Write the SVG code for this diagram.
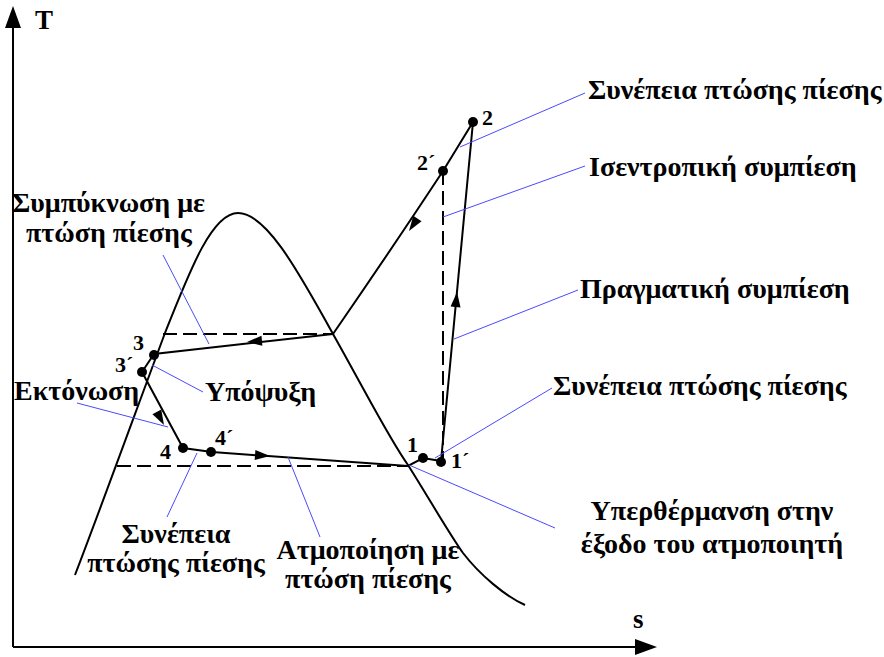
<svg xmlns="http://www.w3.org/2000/svg" xmlns:xlink="http://www.w3.org/1999/xlink" width="884" height="657" viewBox="0 0 884 657">
<style>
.ax{stroke:#000;stroke-width:2;fill:none}
.ln{stroke:#000;stroke-width:2;fill:none}
.ds{stroke:#000;stroke-width:2;fill:none;stroke-dasharray:14,6}
.ld{stroke:#4a4aff;stroke-width:1;fill:none}
.dot{fill:#000}
.mid{text-anchor:middle}
</style>
<defs>
<path id="ah" d="M0,0 L-15,-5 L-15,5 Z" fill="#000"/>
</defs>
<rect width="884" height="657" fill="#fff"/>
<g id="axes">
<line class="ax" x1="13" y1="26" x2="13" y2="647"/>
<polygon points="13,6 5,28 21,28" fill="#000"/>
<line class="ax" x1="13" y1="647" x2="638" y2="647"/>
<polygon points="657,647 635,639 635,655" fill="#000"/>
<g font-family="Liberation Serif, serif" font-weight="bold" font-size="27">
<text x="35" y="29">T</text>
<text x="633" y="628">s</text>
</g>
</g>
<g id="dome">
<path class="ln" d="M75,575 C100,510 140,400 165,333 C190,270 212,213 238,213 C265,213 295,265 333,334 C370,400 390,440 408,465 C430,500 450,535 463,553 C480,575 505,596 525,605"/>
</g>
<g id="connectors">
<line class="ds" x1="163" y1="334" x2="333" y2="334"/>
<line class="ds" x1="117" y1="466" x2="408" y2="466"/>
<line class="ds" x1="443" y1="171" x2="443" y2="458"/>
<polyline class="ln" points="333,334 154,354 142,372 183,448 212,452 408,466 423,458 441,461 473,122 443,171"/>
<path class="ln" d="M443,171 Q393,247 333,334"/>
<use xlink:href="#ah" transform="translate(247,342) rotate(175)"/>
<use xlink:href="#ah" transform="translate(164,425) rotate(61.6)"/>
<use xlink:href="#ah" transform="translate(270,456) rotate(4.1)"/>
<use xlink:href="#ah" transform="translate(457,292) rotate(-84.6)"/>
<use xlink:href="#ah" transform="translate(409,231) rotate(124)"/>
</g>
<g id="leaders">
<line class="ld" x1="460" y1="147" x2="585" y2="93"/>
<line class="ld" x1="443" y1="217" x2="585" y2="166"/>
<line class="ld" x1="454" y1="339" x2="578" y2="290"/>
<line class="ld" x1="435" y1="458" x2="552" y2="388"/>
<line class="ld" x1="409" y1="465" x2="555" y2="528"/>
<line class="ld" x1="288" y1="457" x2="320" y2="537"/>
<line class="ld" x1="197" y1="453" x2="167" y2="517"/>
<line class="ld" x1="152" y1="365" x2="203" y2="392"/>
<line class="ld" x1="77" y1="403" x2="168" y2="427"/>
<line class="ld" x1="163" y1="255" x2="209" y2="344"/>
</g>
<g font-family="Liberation Serif, serif" font-weight="bold" font-size="22">
<g id="p1"><circle class="dot" cx="423" cy="458" r="5"/><text x="407" y="452">1</text></g>
<g id="p1p"><circle class="dot" cx="441" cy="462" r="5"/><text x="451" y="468">1´</text></g>
<g id="p2"><circle class="dot" cx="473" cy="122" r="5"/><text x="482" y="125">2</text></g>
<g id="p2p"><circle class="dot" cx="443" cy="171" r="5"/><text x="417" y="170">2´</text></g>
<g id="p3"><circle class="dot" cx="154" cy="355" r="5"/><text x="133" y="350">3</text></g>
<g id="p3p"><circle class="dot" cx="142" cy="372" r="5"/><text x="115" y="372">3´</text></g>
<g id="p4"><circle class="dot" cx="183" cy="448" r="5"/><text x="160" y="459">4</text></g>
<g id="p4p"><circle class="dot" cx="211" cy="452" r="5"/><text x="215" y="445">4´</text></g>
</g>
<g id="labels" font-family="Liberation Serif, serif" font-weight="bold" font-size="28">
<text x="588" y="99">Συνέπεια πτώσης πίεσης</text>
<text x="589" y="176">Ισεντροπική συμπίεση</text>
<text x="580" y="298">Πραγματική συμπίεση</text>
<text x="553" y="395">Συνέπεια πτώσης πίεσης</text>
<text x="712" y="520" class="mid">Υπερθέρμανση στην</text>
<text x="712" y="553" class="mid">έξοδο του ατμοποιητή</text>
<text x="368" y="559" class="mid">Ατμοποίηση με</text>
<text x="368" y="588" class="mid">πτώση πίεσης</text>
<text x="176" y="543" class="mid">Συνέπεια</text>
<text x="176" y="572" class="mid">πτώσης πίεσης</text>
<text x="205" y="401">Υπόψυξη</text>
<text x="14" y="400">Εκτόνωση</text>
<text x="12" y="212">Συμπύκνωση με</text>
<text x="26" y="242">πτώση πίεσης</text>
</g>
</svg>
